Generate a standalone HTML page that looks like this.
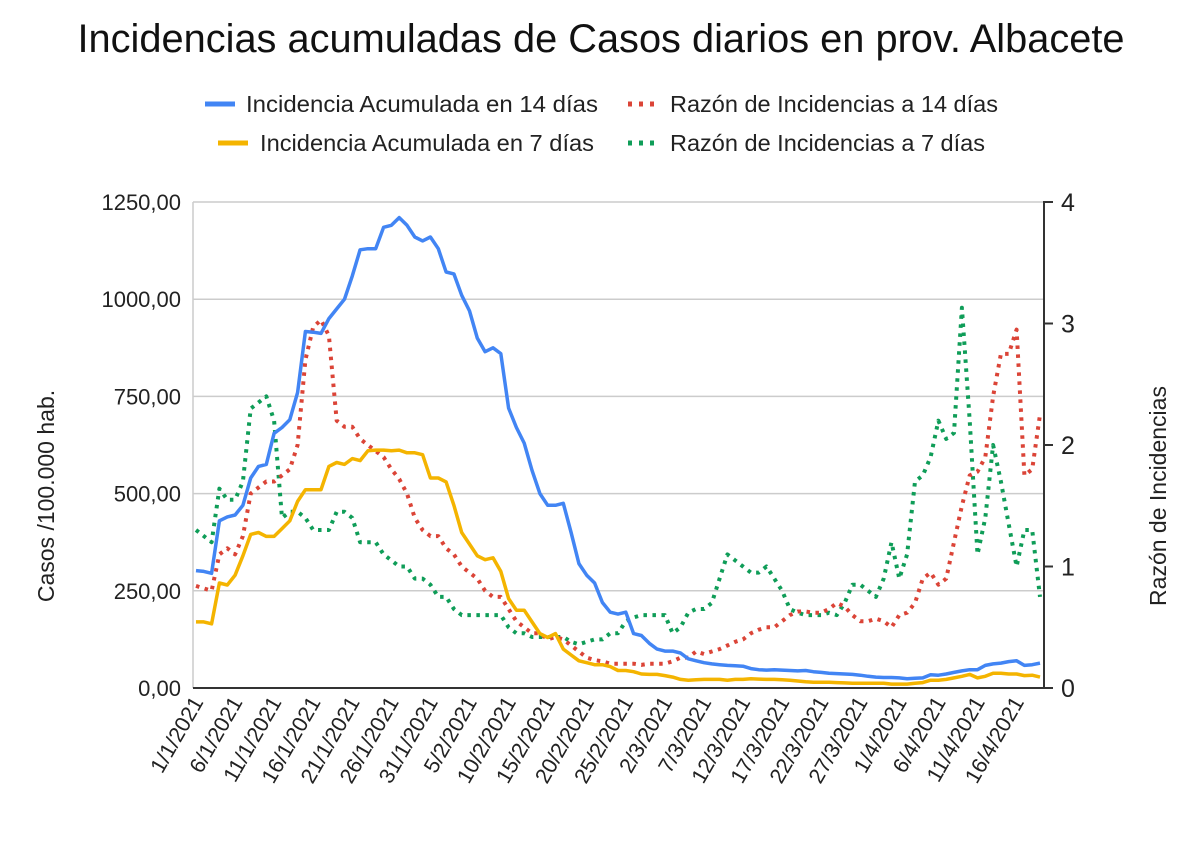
<!DOCTYPE html>
<html><head><meta charset="utf-8"><style>
body{margin:0;background:#fff;width:1200px;height:859px;overflow:hidden;font-family:"Liberation Sans",Arial,sans-serif}
svg text{font-family:"Liberation Sans",Arial,sans-serif}
</style></head><body>
<svg id="chart" width="1200" height="859" viewBox="0 0 1200 859">
<text x="601" y="52" text-anchor="middle" font-size="40" fill="#111" textLength="1047" lengthAdjust="spacingAndGlyphs">Incidencias acumuladas de Casos diarios en prov. Albacete</text>
<g font-size="23.5" fill="#222">
<g><line x1="205" y1="104" x2="235" y2="104" stroke="#4285F4" stroke-width="5"/><text x="246" y="112" textLength="352" lengthAdjust="spacingAndGlyphs">Incidencia Acumulada en 14 días</text></g>
<g><line x1="218" y1="143" x2="248" y2="143" stroke="#F4B400" stroke-width="5"/><text x="260" y="151" textLength="334" lengthAdjust="spacingAndGlyphs">Incidencia Acumulada en 7 días</text></g>
<g><line x1="628" y1="104" x2="660" y2="104" stroke="#DB4437" stroke-width="5" stroke-dasharray="4,7"/><text x="670" y="112" textLength="328" lengthAdjust="spacingAndGlyphs">Razón de Incidencias a 14 días</text></g>
<g><line x1="628" y1="143" x2="660" y2="143" stroke="#0F9D58" stroke-width="5" stroke-dasharray="4,7"/><text x="670" y="151" textLength="315" lengthAdjust="spacingAndGlyphs">Razón de Incidencias a 7 días</text></g>
</g>
<text transform="translate(54,496) rotate(-90)" text-anchor="middle" font-size="23" fill="#222">Casos /100.000 hab.</text>
<text transform="translate(1166,496) rotate(-90)" text-anchor="middle" font-size="23" fill="#222">Razón de Incidencias</text>
<g id="grid"></g>
<g id="axes"></g>
<g id="series"></g>
</svg>
<script>
const xLabels=["1/1/2021","6/1/2021","11/1/2021","16/1/2021","21/1/2021","26/1/2021","31/1/2021","5/2/2021","10/2/2021","15/2/2021","20/2/2021","25/2/2021","2/3/2021","7/3/2021","12/3/2021","17/3/2021","22/3/2021","27/3/2021","1/4/2021","6/4/2021","11/4/2021","16/4/2021"];
const leftTicks=[0,250,500,750,1000,1250];
const leftTickLabels=["0,00","250,00","500,00","750,00","1000,00","1250,00"];
const rightTicks=[0,1,2,3,4];
const ia14=[302,300,295,430,440,445,470,540,570,575,655,670,690,760,917,915,912,950,975,1000,1060,1127,1130,1130,1185,1190,1210,1190,1160,1150,1160,1130,1070,1065,1010,970,900,865,875,860,720,670,630,560,500,470,470,475,400,320,290,270,220,195,190,195,140,135,115,100,95,95,90,75,70,65,62,60,58,57,56,50,47,46,47,46,45,44,45,42,40,38,37,36,35,33,30,28,27,27,26,24,25,26,34,33,36,40,44,47,47,58,62,64,68,70,58,60,64];
const ia7=[170,170,165,270,265,290,340,395,400,390,390,410,430,480,510,510,510,570,580,575,590,585,610,612,612,610,612,605,605,600,540,540,530,470,400,370,340,330,335,300,230,200,200,170,140,130,140,100,85,70,65,60,60,55,45,45,42,36,35,35,32,28,22,20,21,22,22,22,20,22,22,24,23,22,22,21,20,18,16,15,15,15,14,13,12,12,12,12,12,10,10,10,12,14,20,20,22,26,30,35,26,30,38,38,36,36,32,33,28];
const ratio14=[0.84,0.82,0.8,1.1,1.15,1.1,1.25,1.6,1.65,1.7,1.7,1.75,1.8,2.0,2.7,2.97,3.03,2.9,2.2,2.15,2.15,2.05,2.0,1.95,1.9,1.8,1.72,1.6,1.4,1.3,1.25,1.25,1.15,1.1,1.0,0.95,0.9,0.8,0.75,0.75,0.65,0.55,0.5,0.45,0.45,0.4,0.42,0.4,0.35,0.3,0.25,0.23,0.22,0.2,0.2,0.2,0.2,0.19,0.2,0.2,0.2,0.22,0.25,0.25,0.3,0.28,0.3,0.32,0.35,0.38,0.4,0.45,0.48,0.5,0.5,0.55,0.6,0.63,0.63,0.62,0.62,0.65,0.7,0.67,0.6,0.55,0.55,0.57,0.55,0.5,0.6,0.62,0.7,0.9,0.95,0.85,0.9,1.2,1.5,1.75,1.78,1.9,2.4,2.75,2.75,2.95,1.75,1.8,2.25];
const ratio7=[1.3,1.25,1.2,1.64,1.55,1.55,1.7,2.3,2.35,2.4,2.2,1.4,1.45,1.45,1.4,1.3,1.3,1.3,1.45,1.45,1.4,1.2,1.2,1.2,1.1,1.05,1.0,1.0,0.9,0.9,0.85,0.75,0.75,0.65,0.6,0.6,0.6,0.6,0.6,0.6,0.5,0.45,0.45,0.42,0.42,0.42,0.42,0.42,0.38,0.36,0.38,0.4,0.4,0.45,0.45,0.55,0.58,0.6,0.6,0.6,0.6,0.45,0.5,0.62,0.65,0.65,0.7,0.9,1.1,1.05,1.0,0.95,0.95,1.0,0.9,0.8,0.65,0.62,0.6,0.6,0.6,0.62,0.6,0.7,0.85,0.85,0.8,0.75,0.9,1.2,0.9,1.1,1.7,1.75,1.9,2.2,2.05,2.1,3.13,2.2,1.1,1.4,2.0,1.7,1.35,1.0,1.3,1.3,0.75];

const NS="http://www.w3.org/2000/svg";
const X0=196,X1=1040,Y0=688,YT=202,PL=193,PR=1044;
const nDays=ia14.length;
const xs=i=>X0+i*(X1-X0)/(nDays-1);
const yL=v=>Y0-v*(Y0-YT)/1250;
const yR=v=>Y0-v*(Y0-YT)/4;
function mk(tag,attrs,parent){const e=document.createElementNS(NS,tag);for(const k in attrs)e.setAttribute(k,attrs[k]);parent.appendChild(e);return e;}
const grid=document.getElementById('grid'),axes=document.getElementById('axes'),ser=document.getElementById('series');
leftTicks.forEach((t,i)=>{
  if(t>0){const g=mk('line',{x1:PL,x2:PR,y1:yL(t),y2:yL(t),stroke:'#ccc','stroke-width':1.5},grid);
  
  }
  const tx=mk('text',{x:181,y:yL(t)+8,'text-anchor':'end','font-size':22,fill:'#222'},axes);
  tx.textContent=leftTickLabels[i];
  
  
});
mk('line',{x1:PL,x2:PL,y1:YT,y2:Y0,stroke:'#ccc','stroke-width':1.5},axes);
const ra=mk('line',{x1:PR,x2:PR,y1:YT-1,y2:Y0+1,stroke:'#333','stroke-width':2},axes);


rightTicks.forEach(t=>{
  mk('line',{x1:PR,x2:PR+9,y1:yR(t),y2:yR(t),stroke:'#333','stroke-width':2},axes);
  const tx=mk('text',{x:1061,y:yR(t)+9,'font-size':25,fill:'#222'},axes);
  tx.textContent=String(t);
  
  
});
const xa=mk('line',{x1:PL,x2:PR,y1:Y0,y2:Y0,stroke:'#333','stroke-width':2},axes);


xLabels.forEach((l,i)=>{
  const x=xs(i*5);
  const tx=mk('text',{transform:`translate(${x+8},${Y0+14}) rotate(-60)`,'text-anchor':'end','font-size':21.5,fill:'#222'},axes);
  tx.textContent=l;
  
  
});
function path(data,yf,color,dotted,name){
  const d=data.map((v,i)=>(i?'L':'M')+xs(i).toFixed(1)+','+yf(v).toFixed(1)).join(' ');
  const a={d:d,fill:'none',stroke:color,'stroke-width':dotted?4:3.5,'stroke-linejoin':'round'};
  if(dotted){a['stroke-dasharray']='3.5,5.5';}
  const p=mk('path',a,ser);
  
  
}
path(ratio7,yR,'#0F9D58',true,'series-ratio-7');
path(ratio14,yR,'#DB4437',true,'series-ratio-14');
path(ia7,yL,'#F4B400',false,'series-ia-7');
path(ia14,yL,'#4285F4',false,'series-ia-14');
</script>
</body></html>
